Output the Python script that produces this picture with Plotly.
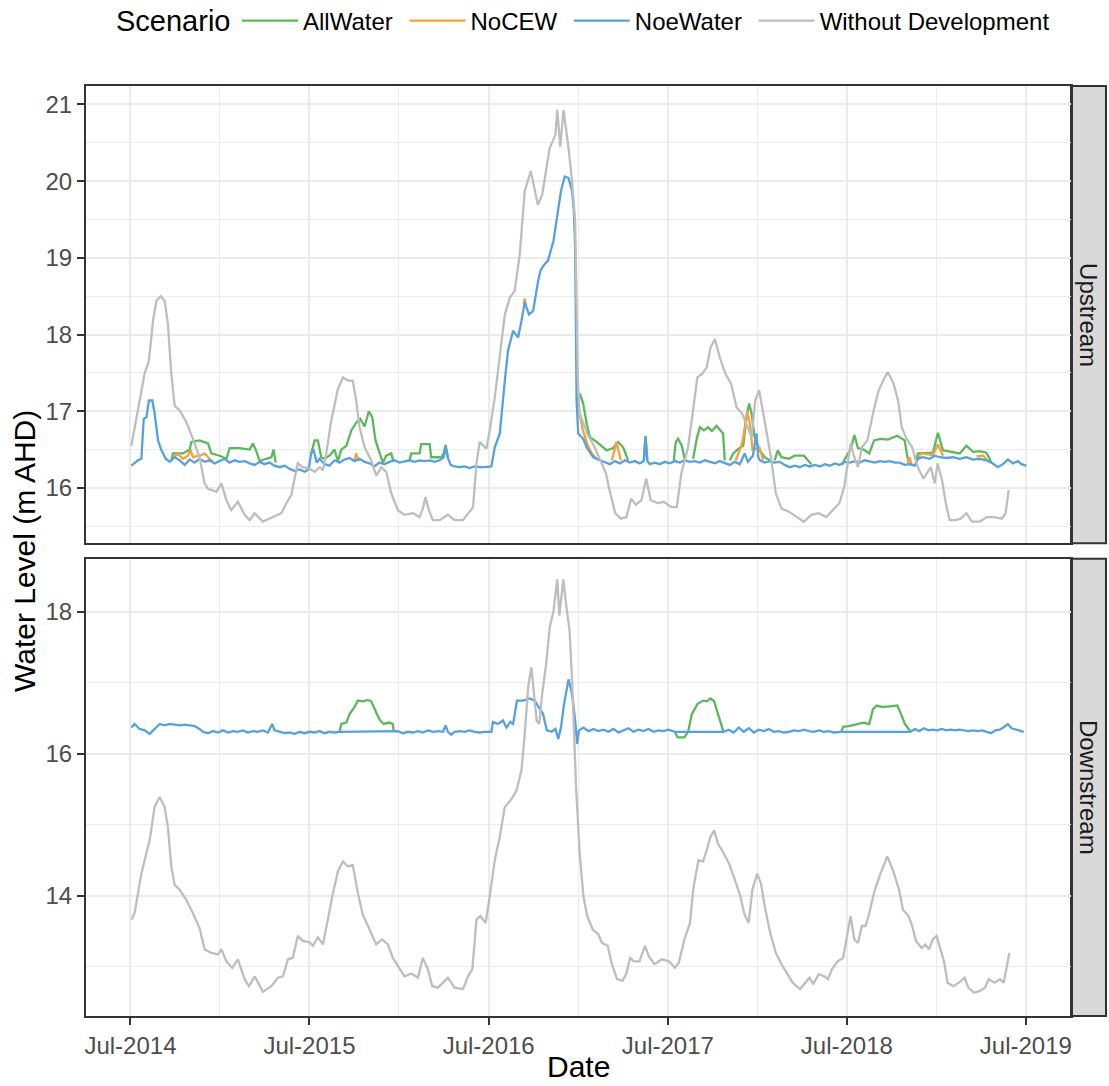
import calendar
from datetime import datetime, timedelta
import plotly.graph_objects as go
from plotly.subplots import make_subplots

# ---------------- DATA (time as decimal year, water level in m AHD) ----------------
SCENARIOS = ["AllWater", "NoCEW", "NoeWater", "Without Development"]
PANELS = ["Upstream", "Downstream"]
LEGEND_TITLE = "Scenario"

# Upstream - Without Development
up_gray_t = [2014.505, 2014.551, 2014.579, 2014.603, 2014.626, 2014.645, 2014.669, 2014.691, 2014.709, 2014.728,
             2014.747, 2014.775, 2014.812, 2014.849, 2014.886, 2014.914, 2014.933, 2014.980, 2015.008, 2015.036,
             2015.063, 2015.100, 2015.138, 2015.166, 2015.194, 2015.240, 2015.296, 2015.343, 2015.371, 2015.399,
             2015.417, 2015.435, 2015.463, 2015.501, 2015.529, 2015.557, 2015.575, 2015.594, 2015.622, 2015.659,
             2015.687, 2015.715, 2015.742, 2015.761, 2015.780, 2015.808, 2015.845, 2015.873, 2015.901, 2015.929,
             2015.957, 2015.994, 2016.031, 2016.078, 2016.115, 2016.133, 2016.148, 2016.167, 2016.189, 2016.227,
             2016.273, 2016.310, 2016.357, 2016.385, 2016.413, 2016.432, 2016.450, 2016.487, 2016.506, 2016.534,
             2016.562, 2016.590, 2016.618, 2016.645, 2016.673, 2016.701, 2016.735, 2016.774, 2016.798, 2016.840,
             2016.872, 2016.882, 2016.899, 2016.917, 2016.945, 2016.965, 2016.982, 2016.991, 2016.997, 2017.007,
             2017.049, 2017.091, 2017.122, 2017.154, 2017.174, 2017.206, 2017.237, 2017.268, 2017.295, 2017.321,
             2017.352, 2017.379, 2017.404, 2017.446, 2017.477, 2017.519, 2017.550, 2017.575, 2017.613, 2017.644,
             2017.665, 2017.692, 2017.717, 2017.738, 2017.763, 2017.790, 2017.821, 2017.853, 2017.884, 2017.915,
             2017.947, 2017.968, 2017.988, 2018.010, 2018.030, 2018.051, 2018.076, 2018.103, 2018.135, 2018.177,
             2018.218, 2018.260, 2018.302, 2018.343, 2018.385, 2018.427, 2018.458, 2018.485, 2018.506, 2018.521,
             2018.542, 2018.562, 2018.584, 2018.615, 2018.646, 2018.677, 2018.703, 2018.729, 2018.761, 2018.786,
             2018.807, 2018.834, 2018.865, 2018.896, 2018.928, 2018.949, 2018.969, 2018.991, 2019.007, 2019.032,
             2019.053, 2019.074, 2019.105, 2019.136, 2019.168, 2019.199, 2019.241, 2019.283, 2019.325, 2019.366,
             2019.387, 2019.404]
up_gray_v = [16.55, 17.14, 17.49, 17.66, 18.18, 18.44, 18.50, 18.44, 18.14, 17.49,
             17.07, 17.01, 16.86, 16.64, 16.40, 16.06, 15.99, 15.95, 16.06, 15.84,
             15.71, 15.82, 15.65, 15.58, 15.67, 15.56, 15.62, 15.67, 15.80, 15.91,
             16.12, 16.32, 16.27, 16.25, 16.21, 16.27, 16.23, 16.45, 16.88, 17.29,
             17.44, 17.40, 17.40, 17.14, 16.79, 16.53, 16.36, 16.16, 16.27, 16.21,
             15.93, 15.71, 15.65, 15.67, 15.62, 15.73, 15.88, 15.71, 15.58, 15.58,
             15.65, 15.58, 15.58, 15.67, 15.75, 16.32, 16.60, 16.51, 16.75, 17.18,
             17.70, 18.26, 18.48, 18.57, 19.04, 19.87, 20.13, 19.69, 19.82, 20.43,
             20.60, 20.93, 20.45, 20.93, 20.43, 20.00, 19.47, 18.26, 17.40, 16.97,
             16.71, 16.53, 16.36, 16.19, 15.97, 15.67, 15.60, 15.62, 15.86, 15.78,
             15.84, 16.12, 15.84, 15.80, 15.82, 15.75, 15.75, 16.19, 16.53, 17.05,
             17.44, 17.49, 17.57, 17.83, 17.94, 17.70, 17.49, 17.36, 17.05, 16.97,
             16.79, 16.66, 17.14, 17.27, 17.01, 16.71, 16.40, 15.93, 15.73, 15.69,
             15.62, 15.56, 15.65, 15.67, 15.62, 15.73, 15.80, 16.01, 16.36, 16.58,
             16.40, 16.27, 16.53, 16.62, 16.97, 17.27, 17.40, 17.51, 17.36, 17.14,
             16.79, 16.64, 16.53, 16.27, 16.12, 16.19, 16.27, 16.06, 16.32, 16.10,
             15.80, 15.58, 15.58, 15.60, 15.67, 15.56, 15.56, 15.62, 15.62, 15.60,
             15.67, 15.97]

# Upstream - NoeWater
up_blue_t = [2014.505, 2014.542, 2014.561, 2014.574, 2014.589, 2014.603, 2014.622, 2014.635, 2014.654, 2014.673,
             2014.697, 2014.719, 2014.747, 2014.775, 2014.803, 2014.831, 2014.858, 2014.886, 2014.914, 2014.942,
             2014.970, 2014.998, 2015.026, 2015.054, 2015.082, 2015.110, 2015.138, 2015.166, 2015.194, 2015.222,
             2015.249, 2015.277, 2015.305, 2015.333, 2015.361, 2015.389, 2015.417, 2015.445, 2015.473, 2015.495,
             2015.510, 2015.523, 2015.540, 2015.557, 2015.584, 2015.612, 2015.640, 2015.668, 2015.696, 2015.724,
             2015.752, 2015.780, 2015.808, 2015.836, 2015.863, 2015.891, 2015.919, 2015.947, 2015.975, 2016.003,
             2016.031, 2016.059, 2016.087, 2016.115, 2016.143, 2016.171, 2016.199, 2016.227, 2016.249, 2016.260,
             2016.271, 2016.288, 2016.310, 2016.338, 2016.366, 2016.394, 2016.422, 2016.450, 2016.478, 2016.515,
             2016.534, 2016.562, 2016.590, 2016.608, 2016.636, 2016.664, 2016.683, 2016.701, 2016.725, 2016.748,
             2016.776, 2016.788, 2016.809, 2016.830, 2016.861, 2016.882, 2016.903, 2016.924, 2016.945, 2016.965,
             2016.975, 2016.982, 2016.988, 2016.990, 2016.999, 2017.027, 2017.046, 2017.083, 2017.120, 2017.148,
             2017.176, 2017.204, 2017.232, 2017.260, 2017.287, 2017.315, 2017.343, 2017.365, 2017.375, 2017.385,
             2017.399, 2017.427, 2017.455, 2017.483, 2017.511, 2017.539, 2017.567, 2017.595, 2017.623, 2017.651,
             2017.679, 2017.707, 2017.735, 2017.763, 2017.790, 2017.818, 2017.846, 2017.874, 2017.902, 2017.929,
             2017.947, 2017.975, 2017.995, 2018.005, 2018.014, 2018.042, 2018.070, 2018.097, 2018.125, 2018.153,
             2018.181, 2018.209, 2018.237, 2018.265, 2018.293, 2018.321, 2018.349, 2018.377, 2018.405, 2018.433,
             2018.460, 2018.488, 2018.516, 2018.544, 2018.572, 2018.600, 2018.628, 2018.656, 2018.684, 2018.712,
             2018.740, 2018.768, 2018.795, 2018.823, 2018.851, 2018.879, 2018.897, 2018.925, 2018.963, 2018.991,
             2019.019, 2019.056, 2019.093, 2019.131, 2019.168, 2019.205, 2019.242, 2019.279, 2019.307, 2019.344,
             2019.372, 2019.400, 2019.428, 2019.456, 2019.475, 2019.503]
up_blue_v = [16.29, 16.36, 16.38, 16.90, 16.92, 17.14, 17.14, 16.97, 16.62, 16.49,
             16.38, 16.34, 16.40, 16.36, 16.30, 16.37, 16.33, 16.38, 16.34, 16.36,
             16.32, 16.35, 16.38, 16.33, 16.36, 16.34, 16.35, 16.32, 16.30, 16.34,
             16.31, 16.33, 16.29, 16.27, 16.29, 16.25, 16.22, 16.24, 16.21, 16.24,
             16.45, 16.50, 16.33, 16.38, 16.31, 16.29, 16.36, 16.33, 16.37, 16.39,
             16.35, 16.38, 16.34, 16.32, 16.28, 16.33, 16.31, 16.34, 16.36, 16.33,
             16.35, 16.36, 16.34, 16.36, 16.35, 16.36, 16.34, 16.36, 16.40, 16.53,
             16.40, 16.30, 16.28, 16.27, 16.28, 16.26, 16.28, 16.27, 16.27, 16.28,
             16.53, 16.71, 17.40, 17.79, 18.05, 17.96, 18.18, 18.42, 18.26, 18.31,
             18.70, 18.83, 18.91, 18.96, 19.22, 19.52, 19.87, 20.06, 20.04, 19.87,
             19.60, 19.13, 18.00, 17.14, 16.71, 16.64, 16.53, 16.40, 16.36, 16.34,
             16.31, 16.35, 16.32, 16.36, 16.33, 16.35, 16.32, 16.35, 16.66, 16.35,
             16.31, 16.33, 16.31, 16.34, 16.32, 16.35, 16.33, 16.36, 16.34, 16.35,
             16.33, 16.36, 16.34, 16.32, 16.35, 16.33, 16.30, 16.34, 16.31, 16.45,
             16.34, 16.42, 16.71, 16.40, 16.36, 16.33, 16.35, 16.33, 16.34, 16.30,
             16.27, 16.29, 16.27, 16.30, 16.28, 16.30, 16.28, 16.31, 16.29, 16.32,
             16.30, 16.34, 16.33, 16.35, 16.33, 16.36, 16.34, 16.33, 16.35, 16.34,
             16.35, 16.33, 16.33, 16.30, 16.31, 16.29, 16.38, 16.40, 16.38, 16.42,
             16.40, 16.39, 16.40, 16.38, 16.40, 16.37, 16.38, 16.36, 16.33, 16.27,
             16.31, 16.37, 16.32, 16.35, 16.31, 16.29]

# Upstream - AllWater (only where it departs from NoeWater; None separates episodes)
up_green_t = [2014.728, 2014.737, 2014.793, 2014.831, 2014.840, 2014.886, 2014.933, 2014.952, 2014.998, 2015.036,
              2015.054, 2015.110, 2015.166, 2015.184, 2015.203, 2015.222, 2015.259, 2015.287, 2015.300, 2015.311, None,
              2015.510, 2015.529, 2015.547, 2015.566, 2015.584, 2015.612, 2015.640, 2015.659, 2015.678, 2015.706,
              2015.734, 2015.761, 2015.784, 2015.808, 2015.832, 2015.851, 2015.869, 2015.892, 2015.910, 2015.929,
              2015.957, 2015.970, None,
              2016.059, 2016.069, 2016.115, 2016.124, 2016.171, 2016.180, 2016.236, 2016.249, 2016.260, 2016.273, None,
              2016.990, 2017.008, 2017.027, 2017.046, 2017.064, 2017.102, 2017.158, 2017.194, 2017.222, 2017.250,
              2017.278, None,
              2017.366, 2017.375, 2017.385, None,
              2017.533, 2017.544, 2017.557, 2017.578, 2017.595, None,
              2017.641, 2017.662, 2017.679, 2017.701, 2017.725, 2017.746, 2017.772, 2017.790, 2017.808, 2017.818, None,
              2017.846, 2017.865, 2017.893, 2017.921, 2017.939, 2017.954, 2017.967, 2017.985, 2018.013, 2018.041,
              2018.069, None,
              2018.097, 2018.114, 2018.135, 2018.177, 2018.208, 2018.260, 2018.302, None,
              2018.473, 2018.489, 2018.521, 2018.542, 2018.562, 2018.594, 2018.625, 2018.652, 2018.688, 2018.729,
              2018.782, 2018.823, 2018.835, 2018.845, None,
              2018.888, 2018.897, 2018.981, 2019.009, 2019.037, 2019.131, 2019.168, 2019.205, 2019.242, 2019.279,
              2019.298, 2019.307]
up_green_v = [16.35, 16.45, 16.45, 16.50, 16.60, 16.62, 16.58, 16.45, 16.42, 16.38,
              16.52, 16.52, 16.50, 16.58, 16.48, 16.35, 16.38, 16.40, 16.50, 16.33, None,
              16.45, 16.62, 16.62, 16.40, 16.38, 16.42, 16.50, 16.35, 16.50, 16.55,
              16.75, 16.85, 16.90, 16.80, 17.00, 16.92, 16.62, 16.45, 16.33, 16.42,
              16.45, 16.34, None,
              16.36, 16.45, 16.45, 16.57, 16.57, 16.40, 16.40, 16.45, 16.56, 16.40, None,
              17.14, 17.23, 17.10, 16.84, 16.66, 16.60, 16.49, 16.52, 16.60, 16.53,
              16.36, None,
              16.36, 16.68, 16.36, None,
              16.36, 16.60, 16.64, 16.55, 16.36, None,
              16.38, 16.65, 16.79, 16.75, 16.79, 16.74, 16.81, 16.76, 16.71, 16.36, None,
              16.36, 16.45, 16.51, 16.55, 16.92, 17.10, 16.98, 16.66, 16.49, 16.40,
              16.36, None,
              16.36, 16.49, 16.40, 16.38, 16.42, 16.42, 16.31, None,
              16.30, 16.38, 16.50, 16.69, 16.52, 16.50, 16.45, 16.62, 16.64, 16.63,
              16.68, 16.62, 16.45, 16.32, None,
              16.36, 16.45, 16.46, 16.72, 16.49, 16.45, 16.55, 16.47, 16.48, 16.46,
              16.38, 16.33]

# Upstream - NoCEW (only where it departs from NoeWater)
up_orange_t = [2014.737, 2014.765, 2014.793, 2014.821, 2014.835, 2014.849, 2014.886, 2014.914, 2014.942, 2014.961, None,
               2015.752, 2015.761, 2015.776, None,
               2016.695, 2016.701, 2016.708, None,
               2016.990, 2017.008, 2017.025, 2017.053, 2017.075, 2017.103, None,
               2017.187, 2017.213, 2017.237, None,
               2017.880, 2017.917, 2017.943, 2017.958, 2017.973, 2018.013, 2018.032, None,
               2018.842, 2018.851, 2018.861, None,
               2018.897, 2018.916, 2018.944, 2018.981, 2019.009, 2019.037, None,
               2019.224, 2019.261, 2019.289]
up_orange_v = [16.40, 16.44, 16.38, 16.42, 16.50, 16.40, 16.42, 16.45, 16.38, 16.34, None,
               16.35, 16.45, 16.35, None,
               18.40, 18.47, 18.36, None,
               17.10, 16.95, 16.75, 16.55, 16.45, 16.38, None,
               16.36, 16.60, 16.36, None,
               16.36, 16.60, 16.99, 16.84, 16.50, 16.52, 16.36, None,
               16.32, 16.40, 16.31, None,
               16.38, 16.45, 16.44, 16.43, 16.57, 16.42, None,
               16.41, 16.42, 16.35]

# Downstream - Without Development
dn_gray_t = [2014.505, 2014.523, 2014.542, 2014.561, 2014.589, 2014.607, 2014.635, 2014.663, 2014.691, 2014.709,
             2014.728, 2014.747, 2014.775, 2014.812, 2014.849, 2014.886, 2014.914, 2014.952, 2014.989, 2015.008,
             2015.036, 2015.069, 2015.100, 2015.138, 2015.162, 2015.194, 2015.240, 2015.287, 2015.324, 2015.352,
             2015.380, 2015.407, 2015.435, 2015.463, 2015.501, 2015.519, 2015.547, 2015.575, 2015.603, 2015.631,
             2015.659, 2015.687, 2015.715, 2015.742, 2015.771, 2015.798, 2015.836, 2015.873, 2015.906, 2015.938,
             2015.966, 2016.003, 2016.031, 2016.069, 2016.106, 2016.133, 2016.161, 2016.186, 2016.217, 2016.273,
             2016.310, 2016.357, 2016.385, 2016.409, 2016.432, 2016.454, 2016.483, 2016.506, 2016.534, 2016.562,
             2016.590, 2016.627, 2016.655, 2016.683, 2016.701, 2016.720, 2016.738, 2016.753, 2016.767, 2016.782,
             2016.798, 2016.820, 2016.840, 2016.861, 2016.882, 2016.894, 2016.916, 2016.934, 2016.951, 2016.965,
             2016.987, 2017.007, 2017.028, 2017.049, 2017.080, 2017.112, 2017.132, 2017.164, 2017.185, 2017.216,
             2017.247, 2017.268, 2017.289, 2017.310, 2017.341, 2017.372, 2017.394, 2017.425, 2017.466, 2017.508,
             2017.539, 2017.561, 2017.592, 2017.623, 2017.644, 2017.671, 2017.696, 2017.717, 2017.738, 2017.759,
             2017.780, 2017.811, 2017.842, 2017.874, 2017.905, 2017.926, 2017.951, 2017.972, 2017.999, 2018.020,
             2018.041, 2018.072, 2018.103, 2018.135, 2018.166, 2018.197, 2018.239, 2018.270, 2018.291, 2018.312,
             2018.343, 2018.374, 2018.395, 2018.416, 2018.448, 2018.479, 2018.500, 2018.521, 2018.542, 2018.562,
             2018.584, 2018.605, 2018.625, 2018.656, 2018.688, 2018.726, 2018.757, 2018.792, 2018.813, 2018.845,
             2018.865, 2018.886, 2018.918, 2018.938, 2018.959, 2018.980, 2019.001, 2019.022, 2019.043, 2019.063,
             2019.095, 2019.126, 2019.158, 2019.179, 2019.210, 2019.241, 2019.272, 2019.293, 2019.325, 2019.356,
             2019.376, 2019.408]
dn_gray_v = [13.66, 13.75, 14.03, 14.31, 14.60, 14.78, 15.25, 15.39, 15.25, 14.97,
             14.41, 14.15, 14.08, 13.94, 13.75, 13.54, 13.24, 13.19, 13.17, 13.24,
             13.07, 12.98, 13.10, 12.82, 12.72, 12.86, 12.64, 12.72, 12.84, 12.86,
             13.10, 13.12, 13.43, 13.36, 13.34, 13.29, 13.41, 13.31, 13.66, 14.03,
             14.34, 14.48, 14.41, 14.43, 14.03, 13.73, 13.52, 13.31, 13.38, 13.31,
             13.12, 12.98, 12.86, 12.90, 12.84, 13.12, 12.96, 12.72, 12.70, 12.84,
             12.70, 12.68, 12.86, 12.96, 13.66, 13.71, 13.61, 13.99, 14.50, 14.83,
             15.25, 15.36, 15.48, 15.77, 16.28, 16.94, 17.22, 16.84, 16.47, 16.42,
             16.84, 17.26, 17.78, 18.01, 18.46, 17.95, 18.46, 18.06, 17.73, 17.03,
             15.53, 14.60, 13.99, 13.71, 13.52, 13.45, 13.33, 13.29, 13.05, 12.82,
             12.80, 12.90, 13.12, 13.07, 13.07, 13.29, 13.14, 13.03, 13.10, 13.07,
             12.98, 13.05, 13.38, 13.61, 14.13, 14.50, 14.48, 14.64, 14.83, 14.92,
             14.73, 14.60, 14.45, 14.22, 13.99, 13.75, 13.61, 14.08, 14.31, 14.17,
             13.85, 13.47, 13.19, 13.03, 12.90, 12.77, 12.68, 12.77, 12.84, 12.75,
             12.89, 12.86, 12.82, 12.96, 13.07, 13.12, 13.43, 13.71, 13.38, 13.33,
             13.57, 13.57, 13.75, 14.08, 14.31, 14.55, 14.36, 14.08, 13.80, 13.71,
             13.57, 13.36, 13.26, 13.31, 13.24, 13.38, 13.43, 13.24, 13.07, 12.77,
             12.72, 12.77, 12.84, 12.70, 12.63, 12.65, 12.70, 12.82, 12.77, 12.82,
             12.77, 13.19]

# Downstream - NoeWater (no records during the AllWater pulses, so the line bridges them)
dn_blue_t = [2014.505, 2014.523, 2014.551, 2014.579, 2014.607, 2014.635, 2014.663, 2014.691, 2014.719, 2014.747,
             2014.775, 2014.803, 2014.831, 2014.858, 2014.886, 2014.905, 2014.933, 2014.961, 2014.989, 2015.017,
             2015.045, 2015.073, 2015.100, 2015.128, 2015.156, 2015.184, 2015.212, 2015.240, 2015.268, 2015.292,
             2015.305, 2015.333, 2015.361, 2015.389, 2015.417, 2015.445, 2015.473, 2015.501, 2015.529, 2015.557,
             2015.584, 2015.612, 2015.640, 2015.668,
             2015.971, 2015.994, 2016.022, 2016.050, 2016.078, 2016.106, 2016.134, 2016.162, 2016.190, 2016.218,
             2016.246, 2016.260, 2016.273, 2016.292, 2016.310, 2016.338, 2016.366, 2016.394, 2016.422, 2016.450,
             2016.478, 2016.515, 2016.524, 2016.552, 2016.580, 2016.599, 2016.621, 2016.636, 2016.658, 2016.692,
             2016.729, 2016.757, 2016.778, 2016.803, 2016.824, 2016.851, 2016.872, 2016.888, 2016.903, 2016.920,
             2016.945, 2016.965, 2016.982, 2016.993, 2017.003, 2017.028, 2017.056, 2017.084, 2017.112, 2017.140,
             2017.168, 2017.196, 2017.224, 2017.252, 2017.280, 2017.308, 2017.336, 2017.364, 2017.392, 2017.420,
             2017.448, 2017.476, 2017.504, 2017.539,
             2017.811, 2017.840, 2017.868, 2017.896, 2017.924, 2017.952, 2017.980, 2018.008, 2018.036, 2018.064,
             2018.092, 2018.120, 2018.148, 2018.176, 2018.204, 2018.232, 2018.260, 2018.288, 2018.316, 2018.344,
             2018.372, 2018.400, 2018.428, 2018.469,
             2018.855, 2018.880, 2018.905, 2018.930, 2018.955, 2018.980, 2019.005, 2019.030, 2019.055, 2019.080,
             2019.105, 2019.130, 2019.155, 2019.180, 2019.205, 2019.230, 2019.255, 2019.280, 2019.305, 2019.330,
             2019.355, 2019.380, 2019.400, 2019.420, 2019.445, 2019.470, 2019.488]
dn_blue_v = [16.37, 16.42, 16.35, 16.33, 16.28, 16.35, 16.42, 16.40, 16.42, 16.41,
             16.40, 16.41, 16.40, 16.39, 16.35, 16.31, 16.29, 16.32, 16.30, 16.33,
             16.30, 16.32, 16.31, 16.33, 16.30, 16.32, 16.31, 16.33, 16.30, 16.42,
             16.33, 16.31, 16.29, 16.30, 16.28, 16.31, 16.29, 16.31, 16.30, 16.32,
             16.29, 16.31, 16.30, 16.31,
             16.31, 16.32, 16.29, 16.31, 16.30, 16.32, 16.30, 16.33, 16.31, 16.32,
             16.31, 16.40, 16.31, 16.27, 16.31, 16.32, 16.31, 16.33, 16.31, 16.30,
             16.31, 16.31, 16.45, 16.42, 16.47, 16.37, 16.45, 16.42, 16.75, 16.75,
             16.78, 16.75, 16.66, 16.56, 16.33, 16.31, 16.35, 16.21, 16.37, 16.70,
             17.05, 16.84, 16.47, 16.14, 16.33, 16.37, 16.32, 16.35, 16.32, 16.34,
             16.31, 16.35, 16.30, 16.33, 16.36, 16.31, 16.34, 16.32, 16.35, 16.31,
             16.33, 16.32, 16.34, 16.31,
             16.31, 16.34, 16.30, 16.37, 16.31, 16.36, 16.30, 16.34, 16.32, 16.35,
             16.31, 16.32, 16.30, 16.31, 16.33, 16.32, 16.34, 16.32, 16.31, 16.33,
             16.31, 16.32, 16.30, 16.31,
             16.31, 16.35, 16.32, 16.36, 16.33, 16.34, 16.33, 16.35, 16.33, 16.34,
             16.33, 16.34, 16.33, 16.32, 16.33, 16.32, 16.33, 16.31, 16.29, 16.33,
             16.34, 16.38, 16.42, 16.36, 16.34, 16.32, 16.31]

# Downstream - AllWater pulses
dn_green_t = [2015.668, 2015.678, 2015.706, 2015.724, 2015.752, 2015.771, 2015.798, 2015.826, 2015.845, 2015.858,
              2015.877, 2015.895, 2015.914, 2015.947, 2015.966, 2015.971, None,
              2017.539, 2017.554, 2017.592, 2017.613, 2017.634, 2017.665, 2017.696, 2017.717, 2017.738, 2017.759,
              2017.780, 2017.801, 2017.811, None,
              2018.469, 2018.479, 2018.510, 2018.552, 2018.594, 2018.625, 2018.646, 2018.667, 2018.698, 2018.740,
              2018.782, 2018.803, 2018.824, 2018.845, 2018.855]
dn_green_v = [16.31, 16.42, 16.44, 16.56, 16.66, 16.75, 16.74, 16.76, 16.74, 16.66,
              16.56, 16.47, 16.42, 16.44, 16.42, 16.31, None,
              16.31, 16.23, 16.23, 16.31, 16.56, 16.70, 16.75, 16.74, 16.78, 16.74,
              16.56, 16.37, 16.31, None,
              16.31, 16.38, 16.39, 16.42, 16.44, 16.42, 16.63, 16.68, 16.66, 16.67,
              16.68, 16.56, 16.42, 16.35, 16.31]

# Axis ticks
x_tick_years = [2014.5, 2015.5, 2016.5, 2017.5, 2018.5, 2019.5]
x_tick_labels = ["Jul-2014", "Jul-2015", "Jul-2016", "Jul-2017", "Jul-2018", "Jul-2019"]
x_minor_years = [2015.0, 2016.0, 2017.0, 2018.0, 2019.0]
x_range_years = [2014.2515, 2019.7524]
up_yticks = [16, 17, 18, 19, 20, 21]
up_yminor = [15.5, 16.5, 17.5, 18.5, 19.5, 20.5]
up_yrange = [15.28, 21.24]
dn_yticks = [14, 16, 18]
dn_yminor = [13, 15, 17]
dn_yrange = [12.30, 18.75]

COLORS = {"AllWater": "#5CB85C", "NoCEW": "#F9A03C", "NoeWater": "#56A1DE",
          "Without Development": "#BEBEBE"}


def to_dt(t):
    if t is None:
        return None
    y = int(t)
    n = 366 if calendar.isleap(y) else 365
    return datetime(y, 1, 1) + timedelta(days=(t - y) * n)


def dts(ts):
    return [to_dt(t) for t in ts]


FONT = "Liberation Sans, Arial, sans-serif"
W, H = 1109, 1086
L, R, T, B = 86, 38, 86, 70
PW, PH = W - L - R, H - T - B
NBSP = "\u00a0"


def px_x(px):
    return (px - L) / PW


def px_y(px):
    return (H - B - px) / PH


fig = make_subplots(rows=2, cols=1, shared_xaxes=True, vertical_spacing=15.7 / PH)

series = {
    1: [("AllWater", up_green_t, up_green_v), ("NoCEW", up_orange_t, up_orange_v),
        ("NoeWater", up_blue_t, up_blue_v), ("Without Development", up_gray_t, up_gray_v)],
    2: [("AllWater", dn_green_t, dn_green_v), ("NoeWater", dn_blue_t, dn_blue_v),
        ("Without Development", dn_gray_t, dn_gray_v)],
}
for row, lst in series.items():
    for name, ts, vs in lst:
        fig.add_trace(go.Scatter(x=dts(ts), y=vs, mode="lines", name=name + NBSP, legendgroup=name,
                                 showlegend=(row == 1), connectgaps=False,
                                 line=dict(color=COLORS[name], width=2.3)),
                      row=row, col=1)

grid = "#EBEBEB"
border = "#333333"
tickfont = dict(family=FONT, size=24, color="#4D4D4D")
xr = [to_dt(x_range_years[0]), to_dt(x_range_years[1])]
xcommon = dict(range=xr, tickmode="array", tickvals=dts(x_tick_years), ticktext=x_tick_labels,
               showgrid=True, gridcolor=grid, gridwidth=1.8, zeroline=False,
               showline=True, mirror=True, linecolor=border, linewidth=2,
               minor=dict(tickvals=dts(x_minor_years), showgrid=True, gridcolor=grid, gridwidth=1.0, ticks=""))
fig.update_xaxes(**xcommon)
fig.update_xaxes(showticklabels=False, ticks="", row=1, col=1)
fig.update_xaxes(ticks="outside", ticklen=7, tickwidth=2, tickcolor=border, tickfont=tickfont, row=2, col=1)

ycommon = dict(showgrid=True, gridcolor=grid, gridwidth=1.8, zeroline=False,
               showline=True, mirror=True, linecolor=border, linewidth=2,
               ticks="outside", ticklen=7, tickwidth=2, tickcolor=border, tickfont=tickfont)
fig.update_yaxes(**ycommon)
fig.update_yaxes(range=up_yrange, tickmode="array", tickvals=up_yticks, ticktext=[str(v) for v in up_yticks],
                 minor=dict(tickvals=up_yminor, showgrid=True, gridcolor=grid, gridwidth=1.0, ticks=""),
                 row=1, col=1)
fig.update_yaxes(range=dn_yrange, tickmode="array", tickvals=dn_yticks, ticktext=[str(v) for v in dn_yticks],
                 minor=dict(tickvals=dn_yminor, showgrid=True, gridcolor=grid, gridwidth=1.0, ticks=""),
                 row=2, col=1)

# facet strips on the right
top_dom = fig.layout.yaxis.domain
bot_dom = fig.layout.yaxis2.domain
strip_x1 = px_x(1106)
for dom, label in [(top_dom, PANELS[0]), (bot_dom, PANELS[1])]:
    fig.add_shape(type="rect", xref="paper", yref="paper", x0=1.0, x1=strip_x1, y0=dom[0], y1=dom[1],
                  fillcolor="#D9D9D9", line=dict(color=border, width=2), layer="below")
    fig.add_annotation(text=label, xref="paper", yref="paper", x=(1 + strip_x1) / 2, y=(dom[0] + dom[1]) / 2,
                       textangle=90, showarrow=False, xanchor="center", yanchor="middle",
                       font=dict(family=FONT, size=24, color="#1A1A1A"))

# axis titles
fig.add_annotation(text="Water Level (m AHD)", xref="paper", yref="paper", x=px_x(24), y=0.5,
                   textangle=-90, showarrow=False, xanchor="center", yanchor="middle",
                   font=dict(family=FONT, size=30, color="black"))
fig.add_annotation(text="Date", xref="paper", yref="paper", x=0.5, y=px_y(1085),
                   showarrow=False, xanchor="center", yanchor="bottom",
                   font=dict(family=FONT, size=30, color="black"))

# legend title (placed on the same line as the legend keys)
fig.add_annotation(text=LEGEND_TITLE, xref="paper", yref="paper", x=px_x(114), y=px_y(21),
                   showarrow=False, xanchor="left", yanchor="middle",
                   font=dict(family=FONT, size=29, color="black"))

fig.update_layout(
    width=W, height=H, autosize=False,
    margin=dict(l=L, r=R, t=T, b=B, pad=0, autoexpand=False),
    paper_bgcolor="white", plot_bgcolor="white",
    font=dict(family=FONT, color="black"),
    showlegend=True,
    legend=dict(orientation="h", x=px_x(237), xanchor="left", y=px_y(21), yanchor="middle",
                font=dict(family=FONT, size=24, color="black"), itemwidth=56,
                bgcolor="rgba(0,0,0,0)", traceorder="normal"),
)

fig.write_html("out.html", config={"displayModeBar": False})
